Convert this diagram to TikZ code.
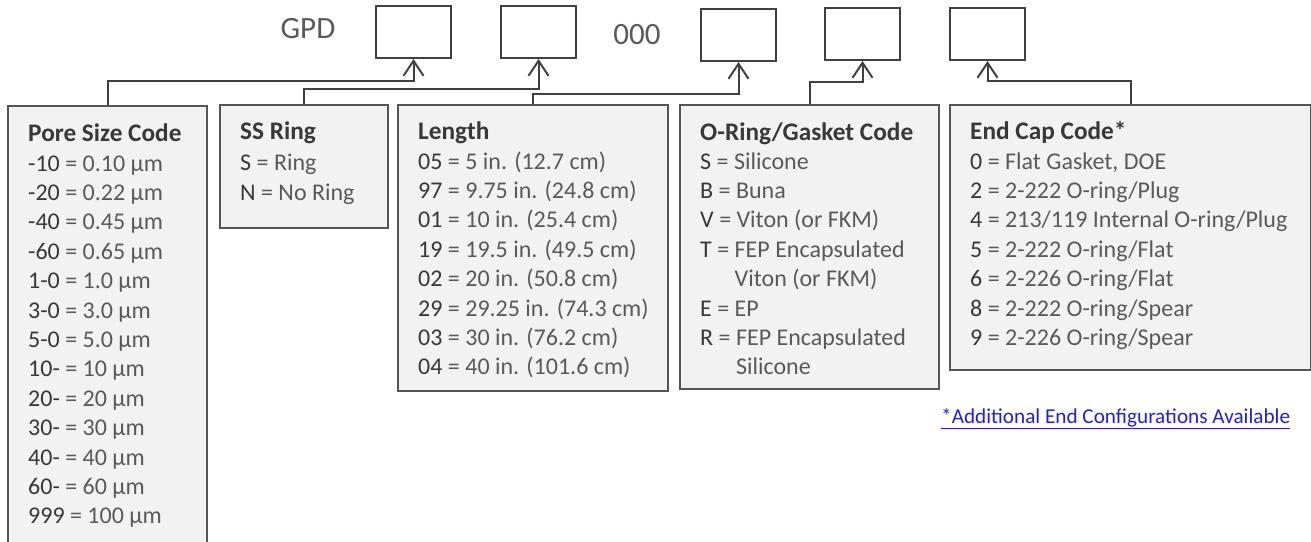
\documentclass[tikz,border=0pt]{standalone}
\usepackage{fontspec}
\setmainfont{Carlito}
\usetikzlibrary{arrows.meta}
\definecolor{boxfill}{HTML}{F2F2F2}
\definecolor{boxline}{HTML}{555555}
\definecolor{conline}{HTML}{404040}
\definecolor{codecol}{HTML}{383838}
\definecolor{txtcol}{HTML}{595959}
\definecolor{linkblue}{HTML}{1F1FE0}
\newcommand{\cd}[1]{\textcolor{codecol}{#1}}
\begin{document}
\begin{tikzpicture}[x=1pt,y=-1pt,
  codebox/.style={draw=boxline, fill=boxfill, line width=2pt, anchor=north west, inner sep=0pt},
  slot/.style={draw=conline, fill=white, line width=2pt, anchor=north west, inner sep=0pt, minimum width=75pt, minimum height=52pt},
  conn/.style={draw=conline, line width=2pt, -{Straight Barb[length=15pt,width=20pt]}},
  ttl/.style={anchor=base west, inner sep=0pt, font=\fontsize{25.3}{30}\selectfont\bfseries, text=codecol},
  ln/.style={anchor=base west, inner sep=0pt, font=\fontsize{24}{29}\selectfont, text=txtcol},
  big/.style={inner sep=0pt, font=\fontsize{31}{36}\selectfont, text=txtcol}
]
\useasboundingbox (0,0) rectangle (1311,541);
\clip (0,0) rectangle (1311,541);

% top slots
\node[big] (gpd) at (308,29) {GPD};
\node[slot] (s1) at (375,5) {};
\node[slot] (s2) at (500,5) {};
\node[big] (zero) at (637,35) {000};
\node[slot] (s3) at (700,8) {};
\node[slot] (s4) at (824,7) {};
\node[slot] (s5) at (949,7) {};

% code boxes
\node[codebox, minimum width=199pt, minimum height=470pt] (pore) at (7,105) {};
\node[codebox, minimum width=168pt, minimum height=123pt] (ss) at (219,104) {};
\node[codebox, minimum width=270pt, minimum height=286pt] (len) at (397,104) {};
\node[codebox, minimum width=259pt, minimum height=284pt] (oring) at (679,104) {};
\node[codebox, minimum width=361pt, minimum height=265pt] (cap) at (949,104) {};

% connectors
\draw[conn] (pore.north) -- ++(0,-24) -| (s1.south);
\draw[conn] (ss.north) -- ++(0,-15) -| (s2.south);
\draw[conn] (len.north) -- ++(0,-10) -| (s3.south);
\draw[conn] (oring.north) -- ++(0,-22) -| (s4.south);
\draw[conn] (cap.north) -- ++(0,-23) -| (s5.south);

% Pore size code
\node[ttl] (pt) at (28,141) {Pore Size Code};
\node[ln] (p1) at (28,171) {\cd{-10} = 0.10 µm};
\node[ln] (p2) at (28,200.4) {\cd{-20} = 0.22 µm};
\node[ln] (p3) at (28,229.8) {\cd{-40} = 0.45 µm};
\node[ln] (p4) at (28,259.2) {\cd{-60} = 0.65 µm};
\node[ln] (p5) at (28,288.6) {\cd{1-0} = 1.0 µm};
\node[ln] (p6) at (28,318) {\cd{3-0} = 3.0 µm};
\node[ln] (p7) at (28,347.4) {\cd{5-0} = 5.0 µm};
\node[ln] (p8) at (28,376.8) {\cd{10-} = 10 µm};
\node[ln] (p9) at (28,406.2) {\cd{20-} = 20 µm};
\node[ln] (p10) at (28,435.6) {\cd{30-} = 30 µm};
\node[ln] (p11) at (28,465) {\cd{40-} = 40 µm};
\node[ln] (p12) at (28,494.4) {\cd{60-} = 60 µm};
\node[ln] (p13) at (28,523.8) {\cd{999} = 100 µm};

% SS ring
\node[ttl] (st) at (240,139) {SS Ring};
\node[ln] (ss1) at (240,170) {\cd{S} = Ring};
\node[ln] (ss2) at (240,200) {\cd{N} = No Ring};

% Length
\node[ttl] (lt) at (418,139) {Length};
\node[ln] (l1) at (418,169) {\cd{05} = 5 in. (12.7 cm)};
\node[ln] (l2) at (418,198.4) {\cd{97} = 9.75 in. (24.8 cm)};
\node[ln] (l3) at (418,227.8) {\cd{01} = 10 in. (25.4 cm)};
\node[ln] (l4) at (418,257.2) {\cd{19} = 19.5 in. (49.5 cm)};
\node[ln] (l5) at (418,286.6) {\cd{02} = 20 in. (50.8 cm)};
\node[ln] (l6) at (418,316) {\cd{29} = 29.25 in. (74.3 cm)};
\node[ln] (l7) at (418,345.4) {\cd{03} = 30 in. (76.2 cm)};
\node[ln] (l8) at (418,374.8) {\cd{04} = 40 in. (101.6 cm)};

% O-ring
\node[ttl] (ot) at (700,140) {O-Ring/Gasket Code};
\node[ln] (o1) at (700,169) {\cd{S} = Silicone};
\node[ln] (o2) at (700,198.4) {\cd{B} = Buna};
\node[ln] (o3) at (700,227.8) {\cd{V} = Viton (or FKM)};
\node[ln] (o4) at (700,257.2) {\cd{T} = FEP Encapsulated};
\node[ln] (o5) at (700,286.6) {\phantom{T = }Viton (or FKM)};
\node[ln] (o6) at (700,316) {\cd{E} = EP};
\node[ln] (o7) at (700,345.4) {\cd{R} = FEP Encapsulated};
\node[ln] (o8) at (700,374.8) {\phantom{R = }Silicone};

% End cap
\node[ttl] (ct) at (970,139) {End Cap Code*};
\node[ln] (c1) at (970,169) {\cd{0} = Flat Gasket, DOE};
\node[ln] (c2) at (970,198.4) {\cd{2} = 2-222 O-ring/Plug};
\node[ln] (c3) at (970,227.8) {\cd{4} = 213/119 Internal O-ring/Plug};
\node[ln] (c4) at (970,257.2) {\cd{5} = 2-222 O-ring/Flat};
\node[ln] (c5) at (970,286.6) {\cd{6} = 2-226 O-ring/Flat};
\node[ln] (c6) at (970,316) {\cd{8} = 2-222 O-ring/Spear};
\node[ln] (c7) at (970,345.4) {\cd{9} = 2-226 O-ring/Spear};

% link
\node[anchor=base west, inner sep=0pt, font=\fontsize{21.2}{25}\selectfont, text=linkblue] (link) at (941,423) {\underline{*Additional End Configurations Available}};
\end{tikzpicture}
\end{document}
